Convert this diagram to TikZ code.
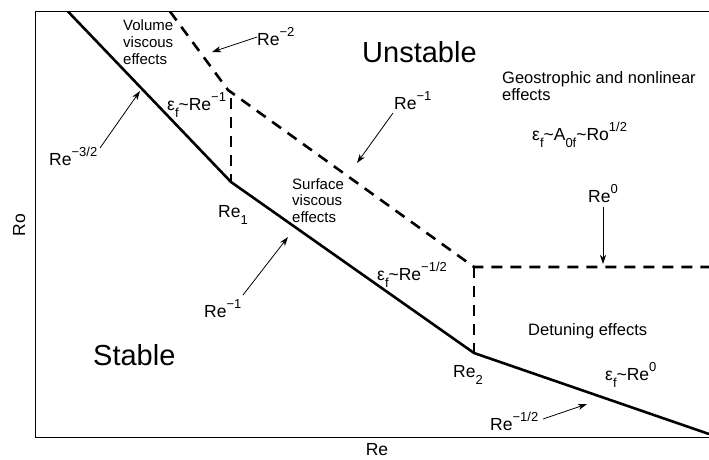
\documentclass[tikz,border=0pt]{standalone}
\usepackage{fontspec}
\setmainfont{Liberation Sans}
\usetikzlibrary{arrows.meta}
\newcommand\supx[1]{\raisebox{9pt}{\fontsize{13}{14}\selectfont #1}}
\newcommand\subx[1]{\raisebox{-7pt}{\fontsize{13}{14}\selectfont #1}}
\begin{document}
\begin{tikzpicture}[x=1pt,y=-1pt,
  lbl/.style={inner sep=0pt,anchor=base west,font=\fontsize{17.5}{20}\selectfont},
  note/.style={inner sep=0pt,anchor=north west,align=left,font=\fontsize{15}{16.8}\selectfont},
  note2/.style={inner sep=0pt,anchor=north west,align=left,font=\fontsize{16.5}{17.5}\selectfont},
  big/.style={inner sep=0pt,anchor=base west,font=\fontsize{29}{34}\selectfont},
  bound/.style={line width=2.6pt,line join=miter},
  trans/.style={line width=2.6pt,dash pattern=on 11pt off 8pt},
  ptr/.style={line width=0.8pt,-{Stealth[length=9pt,width=6pt,inset=2.5pt]}},
  axis/.style={line width=1.5pt}]
\useasboundingbox (0,0) rectangle (709,459);
% frame
\coordinate (tr) at (709,11.5);
\coordinate (tl) at (35.5,11.5);
\coordinate (bl) at (35.5,437.5);
\coordinate (br) at (709,437.5);
\draw[axis] (tr) -- (tl) -- (bl) -- (br);
% stability boundary
\coordinate (s0) at (68,11.5);
\coordinate (re1) at (231,182);
\coordinate (re2) at (474,353);
\coordinate (s3) at (709,434);
\draw[bound] (s0) -- (re1) -- (re2) -- (s3);
% transition lines
\coordinate (d0) at (170,11.5);
\coordinate (dk) at (228,90);
\coordinate (dm) at (474,267);
\coordinate (d3) at (709,267);
\draw[trans] (d0) -- (dk) -- (dm) -- (d3);
\coordinate (v1t) at (231,98);
\draw[trans] (v1t) -- (re1);
\draw[trans] (dm) -- (re2);
% region labels
\node[big] (unst) at (362,62) {Unstable};
\node[big] (stab) at (93,365) {Stable};
\node[note] (vol) at (123,19.5) {Volume\\viscous\\effects};
\node[note] (surf) at (292,178) {Surface\\viscous\\effects};
\node[note2] (geo) at (502,71) {Geostrophic and nonlinear\\effects};
\node[note2, anchor=base west] (det) at (528,335) {Detuning effects};
% scaling labels
\node[lbl] (ef1) at (167,110) {ε\subx{f}\textasciitilde Re\supx{−1}};
\node[lbl] (ef2) at (377,280) {ε\subx{f}\textasciitilde Re\supx{−1/2}};
\node[lbl] (ef3) at (605,380) {ε\subx{f}\textasciitilde Re\supx{0}};
\node[lbl] (ef4) at (532,140) {ε\subx{f}\textasciitilde A\subx{0f}\textasciitilde Ro\supx{1/2}};
\node[lbl] (lre1) at (218,217) {Re\subx{1}};
\node[lbl] (lre2) at (453,377) {Re\subx{2}};
% arrow labels
\node[lbl] (a2) at (257,45) {Re\supx{−2}};
\node[lbl] (a32) at (49,165) {Re\supx{−3/2}};
\node[lbl] (a1u) at (394,109) {Re\supx{−1}};
\node[lbl] (a1l) at (204,317) {Re\supx{−1}};
\node[lbl] (a12) at (490,430) {Re\supx{−1/2}};
\node[lbl] (a0) at (588,202) {Re\supx{0}};
% arrows
\coordinate (t2) at (257,37);   \coordinate (h2) at (212,52);
\coordinate (t32) at (100,148); \coordinate (h32) at (140,91);
\coordinate (t1u) at (393,113); \coordinate (h1u) at (357,163);
\coordinate (t1l) at (243,295); \coordinate (h1l) at (288,237);
\coordinate (t12) at (543,419); \coordinate (h12) at (587,404);
\coordinate (t0) at (603,207);  \coordinate (h0) at (603,264);
\draw[ptr] (t2) -- (h2);
\draw[ptr] (t32) -- (h32);
\draw[ptr] (t1u) -- (h1u);
\draw[ptr] (t1l) -- (h1l);
\draw[ptr] (t12) -- (h12);
\draw[ptr] (t0) -- (h0);
% axis labels
\node[inner sep=0pt,anchor=base,rotate=90,font=\fontsize{17.5}{20}\selectfont] (ro) at (25,225) {Ro};
\node[inner sep=0pt,anchor=base,font=\fontsize{17.5}{20}\selectfont] (rex) at (377,455) {Re};
\end{tikzpicture}
\end{document}
